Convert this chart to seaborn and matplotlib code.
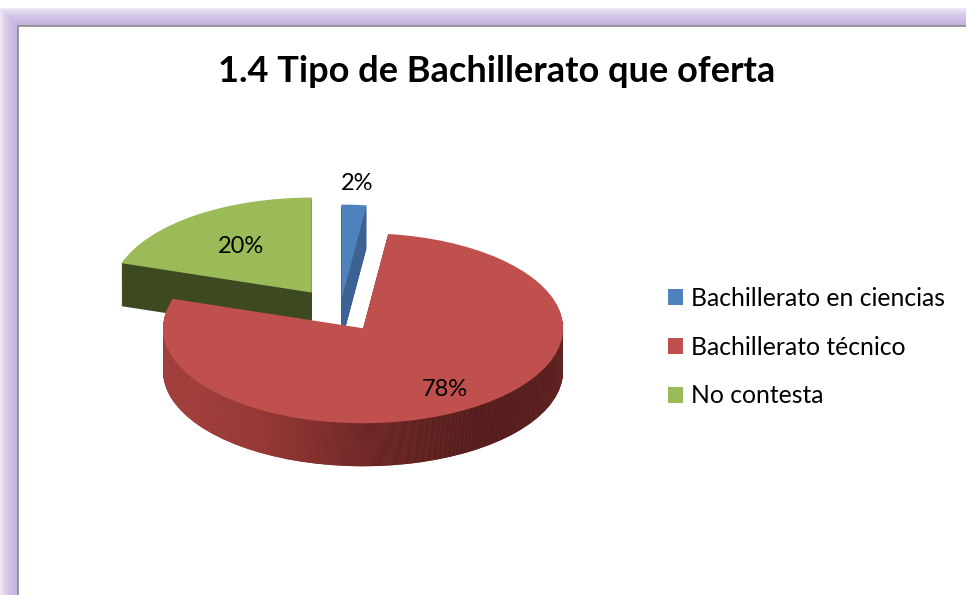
import numpy as np
import matplotlib
matplotlib.use("Agg")
import matplotlib.pyplot as plt
import matplotlib.colors as mcolors
from matplotlib.patches import Rectangle
import seaborn as sns

# data
categories = ["Bachillerato en ciencias", "Bachillerato técnico", "No contesta"]
percentages = [2, 78, 20]
pct_labels = ["2%", "78%", "20%"]
top_colors = ["#4f81bd", "#c0504d", "#9bbb59"]
wall_colors = ["#3c6293", "#8a3432", "#3d4a21"]
explode = [0.12, 0.215, 0.24]
label_dist = [1.22, 0.76, 0.6]
title = "1.4 Tipo de Bachillerato que oferta"

W, H = 966, 595
sns.set_theme(style="white")
plt.rcParams["font.family"] = ["Lato", "DejaVu Sans"]
plt.rcParams["text.color"] = "black"

fig = plt.figure(figsize=(W / 100, H / 100), dpi=100)
fig.patch.set_facecolor("white")


def fx(px):
    return px / W


def fy(py):
    return 1 - py / H


# purple glow around the chart frame
purple = np.array(mcolors.to_rgb("#c4b0df"))
white = np.ones(3)
glow = 18
for i in range(glow, 0, -1):
    f = ((glow - i + 1) / glow) ** 0.45
    col = white * (1 - f) + purple * f
    x0, y0 = 18 - i, 26 - i
    fig.add_artist(Rectangle((fx(x0), fy(H + 50)), fx(W + 50 - x0), fy(y0) - fy(H + 50),
                             transform=fig.transFigure, facecolor=col, edgecolor="none", zorder=0))
# white chart area with grey border
fig.add_artist(Rectangle((fx(18), fy(H + 50)), fx(W + 50 - 18), fy(26) - fy(H + 50),
                         transform=fig.transFigure, facecolor="white", edgecolor="#8a8a8a",
                         linewidth=1.2, zorder=0.5))

ax = fig.add_axes([0, 0, 1, 1])
ax.set_zorder(2)
ax.patch.set_alpha(0)

cx, cy, rx, ry = 340, 311, 200, 95
depth = 43 / ry
n_layers = 44
red_wall = mcolors.LinearSegmentedColormap.from_list(
    "red_wall", ["#b04845", "#9a3b39", "#6a2725", "#4c1c1b", "#521f1e"])
grad = np.linspace(0, 1, 256)[None, :]

# side walls: stacked pies shifted downward
for k in range(n_layers):
    dz = depth * (1 - k / n_layers)
    wedges, _ = ax.pie(percentages, explode=explode, colors=wall_colors, startangle=90,
                       counterclock=False, center=(0, -dz),
                       wedgeprops=dict(linewidth=0, zorder=1 + k))
    im = ax.imshow(grad, cmap=red_wall, extent=(-0.95, 1.25, -1.8, 0.8), aspect="auto",
                   interpolation="bilinear", zorder=1.5 + k)
    im.set_clip_path(wedges[1])

# top faces
top, _ = ax.pie(percentages, explode=explode, colors=top_colors, startangle=90,
                counterclock=False, center=(0, 0),
                wedgeprops=dict(linewidth=0, zorder=n_layers + 2))

for w, lab, d in zip(top, pct_labels, label_dist):
    mid = np.deg2rad((w.theta1 + w.theta2) / 2)
    x = w.center[0] + d * np.cos(mid)
    y = w.center[1] + d * np.sin(mid)
    ax.text(x, y, lab, ha="center", va="center", fontsize=17, color="black",
            zorder=n_layers + 5)

ax.set_aspect("auto")
ax.set_xlim(-cx / rx, (W - cx) / rx)
ax.set_ylim((cy - H) / ry, cy / ry)
ax.axis("off")

fig.text(fx(497), fy(71), title, ha="center", va="center", fontsize=26,
         fontweight="bold", color="black", zorder=5)

leg = fig.legend(handles=top, labels=categories, loc="center left",
                 bbox_to_anchor=(fx(668), fy(347)), frameon=False, fontsize=17.8,
                 handlelength=0.6, handleheight=0.6, handletextpad=0.35,
                 labelspacing=1.05, borderpad=0, borderaxespad=0)
leg.set_zorder(5)

fig.savefig("out.png", dpi=100)
